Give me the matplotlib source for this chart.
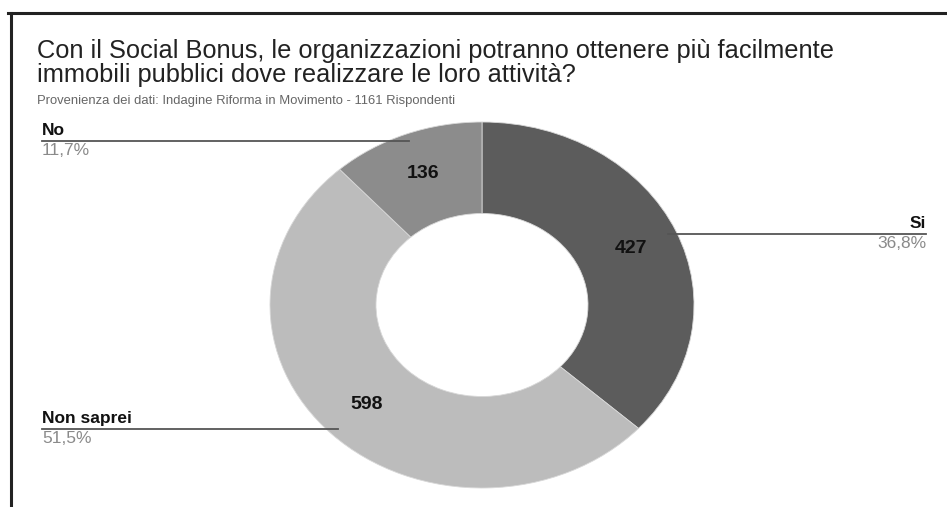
import numpy as np
import matplotlib
matplotlib.use("Agg")
import matplotlib.pyplot as plt
from matplotlib.lines import Line2D
from matplotlib import transforms

plt.rcParams['font.family'] = ['Liberation Sans', 'DejaVu Sans']

# Survey answers
categories = ["Si", "Non saprei", "No"]
counts = [427, 598, 136]
percent_labels = ["36,8%", "51,5%", "11,7%"]
colors = ["#5c5c5c", "#bcbcbc", "#8c8c8c"]

title = ("Con il Social Bonus, le organizzazioni potranno ottenere più facilmente\n"
         "immobili pubblici dove realizzare le loro attività?")
subtitle = "Provenienza dei dati: Indagine Riforma in Movimento - 1161 Rispondenti"

W, H = 947, 507
fig = plt.figure(figsize=(W / 100, H / 100), dpi=100)
fig.patch.set_facecolor("white")

# Donut axes (slightly flattened ellipse)
cx, cy, rx, ry = 482, 305, 212, 183
ax = fig.add_axes([(cx - rx) / W, (H - cy - ry) / H, 2 * rx / W, 2 * ry / H])
wedges, _ = ax.pie(counts, colors=colors, startangle=90, counterclock=False,
                   radius=1.0, wedgeprops=dict(width=0.5, edgecolor="#d8d8d8", linewidth=0.6))
ax.set_aspect("auto")
ax.set_xlim(-1, 1)
ax.set_ylim(-1, 1)
ax.axis("off")

# Value labels inside the ring and leader lines to the side labels
blend = transforms.blended_transform_factory(fig.transFigure, ax.transData)
left_x = 42 / W
right_x = 926 / W
for w, cat, n, pct in zip(wedges, categories, counts, percent_labels):
    mid = np.deg2rad((w.theta1 + w.theta2) / 2)
    ax.text(0.77 * np.cos(mid), 0.77 * np.sin(mid), str(n), ha="center", va="center",
            fontsize=14, fontweight="bold", color="#111111")
    px, py = 0.96 * np.cos(mid), 0.96 * np.sin(mid)
    xa = fig.transFigure.inverted().transform(ax.transData.transform((px, py)))[0]
    if px >= 0:
        x0, x1, lx, ha = xa, right_x, right_x, "right"
    else:
        x0, x1, lx, ha = left_x, xa, left_x, "left"
    ax.add_line(Line2D([x0, x1], [py, py], transform=blend, color="#555555",
                       lw=1.3, clip_on=False))
    ax.annotate(cat, xy=(lx, py), xycoords=blend, xytext=(0, 2),
                textcoords="offset points", ha=ha, va="bottom",
                fontsize=12.5, fontweight="bold", color="#111111")
    ax.annotate(pct, xy=(lx, py), xycoords=blend, xytext=(0, -1.5),
                textcoords="offset points", ha=ha, va="top",
                fontsize=12.5, color="#8a8a8a")

# Titles
fig.text(37 / W, 1 - 39 / H, title, ha="left", va="top", fontsize=18.3,
         color="#222222", linespacing=1.0)
fig.text(37 / W, 1 - 95 / H, subtitle, ha="left", va="top", fontsize=9.4,
         color="#666666")

# Frame lines along the top and left edges
fig.add_artist(Line2D([8 / W, 1.0], [1 - 13 / H, 1 - 13 / H], transform=fig.transFigure,
                      color="#222222", lw=2.2))
fig.add_artist(Line2D([11 / W, 11 / W], [0, 1 - 13 / H], transform=fig.transFigure,
                      color="#222222", lw=2.2))

fig.savefig("out.png", dpi=100, facecolor="white")
